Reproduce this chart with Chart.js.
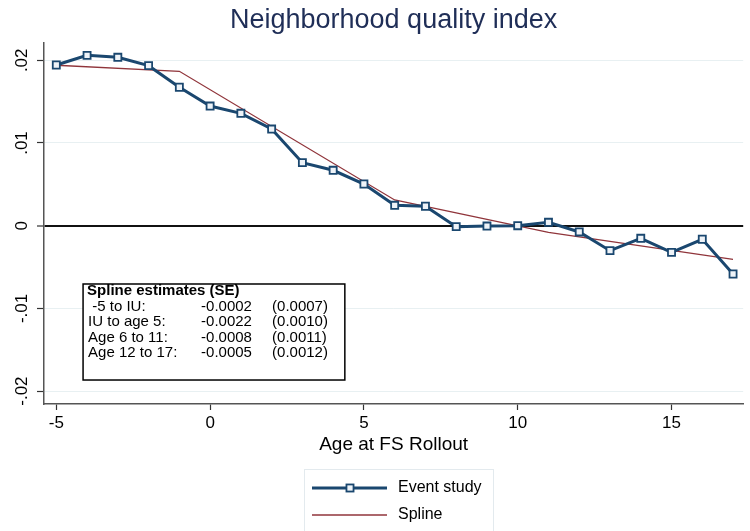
<!DOCTYPE html>
<html>
<head>
<meta charset="utf-8">
<title>Neighborhood quality index</title>
<script src="https://cdn.jsdelivr.net/npm/chart.js@4.4.0/dist/chart.umd.min.js"></script>
<style>
  html, body { margin: 0; padding: 0; background: #fff; }
  #wrap { width: 750px; height: 531px; }
</style>
</head>
<body>
<div id="wrap"><canvas id="fsChart" width="750" height="531"></canvas></div>
<script>
// ---- data ----
// event-study coefficients by age at food stamp rollout
const ages = [-5, -4, -3, -2, -1, 0, 1, 2, 3, 4, 5, 6, 7, 8, 9, 10, 11, 12, 13, 14, 15, 16, 17];
const eventCoefs = [0.01943, 0.0206, 0.02036, 0.01935, 0.01674, 0.01447, 0.01359, 0.01169,
                    0.00762, 0.0067, 0.00504, 0.00247, 0.00235, -0.00012, -0.00004, 0.0,
                    0.00041, -0.00076, -0.00302, -0.00152, -0.00322, -0.00164, -0.00584];

// piecewise linear spline: knots and fitted values
const splineKnots = [-5, -1, 6, 11, 17];
const splineFit = [0.0194, 0.01867, 0.00311, -0.0008, -0.00406];

// axis ticks
const xTicks = [-5, 0, 5, 10, 15];
const yTicks = [-0.02, -0.01, 0, 0.01, 0.02];
const yTickLabels = ['-.02', '-.01', '0', '.01', '.02'];

// spline estimates table
const estLabels = [' -5 to IU:', 'IU to age 5:', 'Age 6 to 11:', 'Age 12 to 17:'];
const estCoefs = ['-0.0002', '-0.0022', '-0.0008', '-0.0005'];
const estSEs = ['(0.0007)', '(0.0010)', '(0.0011)', '(0.0012)'];

const FONT = '"Liberation Sans", Arial, Helvetica, sans-serif';
const NAVY = '#1a476f';
const MAROON = '#90353b';

// title, rotated y labels, estimates box and legend drawn on top
const extrasPlugin = {
    id: 'extras',
    afterDraw(chart) {
        const ctx = chart.ctx;
        const area = chart.chartArea;
        const xs = chart.scales.x;
        const ys = chart.scales.y;

        // title
        ctx.save();
        ctx.fillStyle = '#1f2e57';
        ctx.font = '27px ' + FONT;
        ctx.textAlign = 'center';
        ctx.textBaseline = 'middle';
        ctx.fillText('Neighborhood quality index', (area.left + area.right) / 2, 21);
        ctx.restore();

        // y tick labels, rotated
        ctx.save();
        ctx.fillStyle = '#000';
        ctx.font = '17px ' + FONT;
        ctx.textAlign = 'center';
        ctx.textBaseline = 'alphabetic';
        yTicks.forEach((v, i) => {
            ctx.save();
            ctx.translate(area.left - 17, ys.getPixelForValue(v));
            ctx.rotate(-Math.PI / 2);
            ctx.fillText(yTickLabels[i], 0, 0);
            ctx.restore();
        });
        ctx.restore();

        // spline estimates box
        const bx0 = xs.getPixelForValue(-4.13);
        const bx1 = xs.getPixelForValue(4.38);
        const by0 = ys.getPixelForValue(-0.00705);
        const by1 = ys.getPixelForValue(-0.01866);
        ctx.save();
        ctx.fillStyle = '#fff';
        ctx.fillRect(bx0, by0, bx1 - bx0, by1 - by0);
        ctx.strokeStyle = '#000';
        ctx.lineWidth = 1.5;
        ctx.strokeRect(bx0, by0, bx1 - bx0, by1 - by0);
        ctx.fillStyle = '#000';
        ctx.textBaseline = 'middle';
        ctx.textAlign = 'left';
        ctx.font = 'bold 15px ' + FONT;
        ctx.fillText('Spline estimates (SE)', bx0 + 4, by0 + 7);
        ctx.font = '15px ' + FONT;
        estLabels.forEach((lab, i) => {
            const ty = by0 + 22.5 + i * 15.5;
            ctx.fillText(lab, bx0 + 5, ty);
            ctx.fillText(estCoefs[i], bx0 + 118, ty);
            ctx.fillText(estSEs[i], bx0 + 189, ty);
        });
        ctx.restore();

        // legend
        const ds = chart.data.datasets;
        ctx.save();
        ctx.fillStyle = '#fff';
        ctx.fillRect(304, 469, 189, 80);
        ctx.strokeStyle = '#e3eaee';
        ctx.lineWidth = 1;
        ctx.strokeRect(304.5, 469.5, 189, 80);
        const rows = [488, 515];
        ds.forEach((d, i) => {
            const y = rows[i];
            ctx.strokeStyle = d.borderColor;
            ctx.lineWidth = d.borderWidth;
            ctx.beginPath();
            ctx.moveTo(312, y);
            ctx.lineTo(387, y);
            ctx.stroke();
            if (d.pointRadius > 0) {
                const s = d.pointRadius * Math.SQRT1_2;
                ctx.fillStyle = d.pointBackgroundColor;
                ctx.fillRect(350 - s, y - s, 2 * s, 2 * s);
                ctx.lineWidth = d.pointBorderWidth;
                ctx.strokeStyle = d.pointBorderColor;
                ctx.strokeRect(350 - s, y - s, 2 * s, 2 * s);
            }
            ctx.fillStyle = '#000';
            ctx.font = '16px ' + FONT;
            ctx.textAlign = 'left';
            ctx.textBaseline = 'middle';
            ctx.fillText(d.label, 398, y);
        });
        ctx.restore();
    }
};

const ctx = document.getElementById('fsChart').getContext('2d');
new Chart(ctx, {
    type: 'line',
    data: {
        datasets: [
            {
                label: 'Event study',
                data: ages.map((a, i) => ({ x: a, y: eventCoefs[i] })),
                borderColor: NAVY,
                borderWidth: 3,
                pointStyle: 'rect',
                pointRadius: 5,
                pointBorderWidth: 1.8,
                pointBorderColor: NAVY,
                pointBackgroundColor: '#eef3f8',
                tension: 0,
                fill: false
            },
            {
                label: 'Spline',
                data: splineKnots.map((k, i) => ({ x: k, y: splineFit[i] })),
                borderColor: MAROON,
                borderWidth: 1.3,
                pointRadius: 0,
                tension: 0,
                fill: false
            }
        ]
    },
    options: {
        responsive: false,
        animation: false,
        devicePixelRatio: 1,
        layout: { padding: { top: 43, left: 0, right: 0, bottom: 75 } },
        plugins: {
            legend: { display: false },
            tooltip: { enabled: false },
            title: { display: false }
        },
        scales: {
            x: {
                type: 'linear',
                min: -5.4,
                max: 17.33,
                afterBuildTicks: s => { s.ticks = xTicks.map(v => ({ value: v })); },
                afterFit: s => { s.height = 52; },
                grid: { display: true, drawOnChartArea: false, drawTicks: true, tickLength: 6, tickColor: '#333', tickWidth: 1.2 },
                border: { display: true, color: '#555', width: 1.5 },
                ticks: { color: '#000', font: { family: FONT, size: 17 }, padding: 3, maxRotation: 0 },
                title: { display: true, text: 'Age at FS Rollout', color: '#000', font: { family: FONT, size: 19 }, padding: 0 }
            },
            y: {
                type: 'linear',
                min: -0.02156,
                max: 0.02209,
                afterBuildTicks: s => { s.ticks = yTicks.map(v => ({ value: v })); },
                afterFit: s => { s.width = 44; },
                grid: {
                    color: c => (c.tick && c.tick.value === 0) ? '#111' : '#e8f0f2',
                    lineWidth: c => (c.tick && c.tick.value === 0) ? 2 : 1,
                    tickColor: '#333',
                    tickLength: 7,
                    tickWidth: 1.2
                },
                border: { display: true, color: '#555', width: 1.5 },
                ticks: { display: false }
            }
        }
    },
    plugins: [extrasPlugin]
});
</script>
</body>
</html>
